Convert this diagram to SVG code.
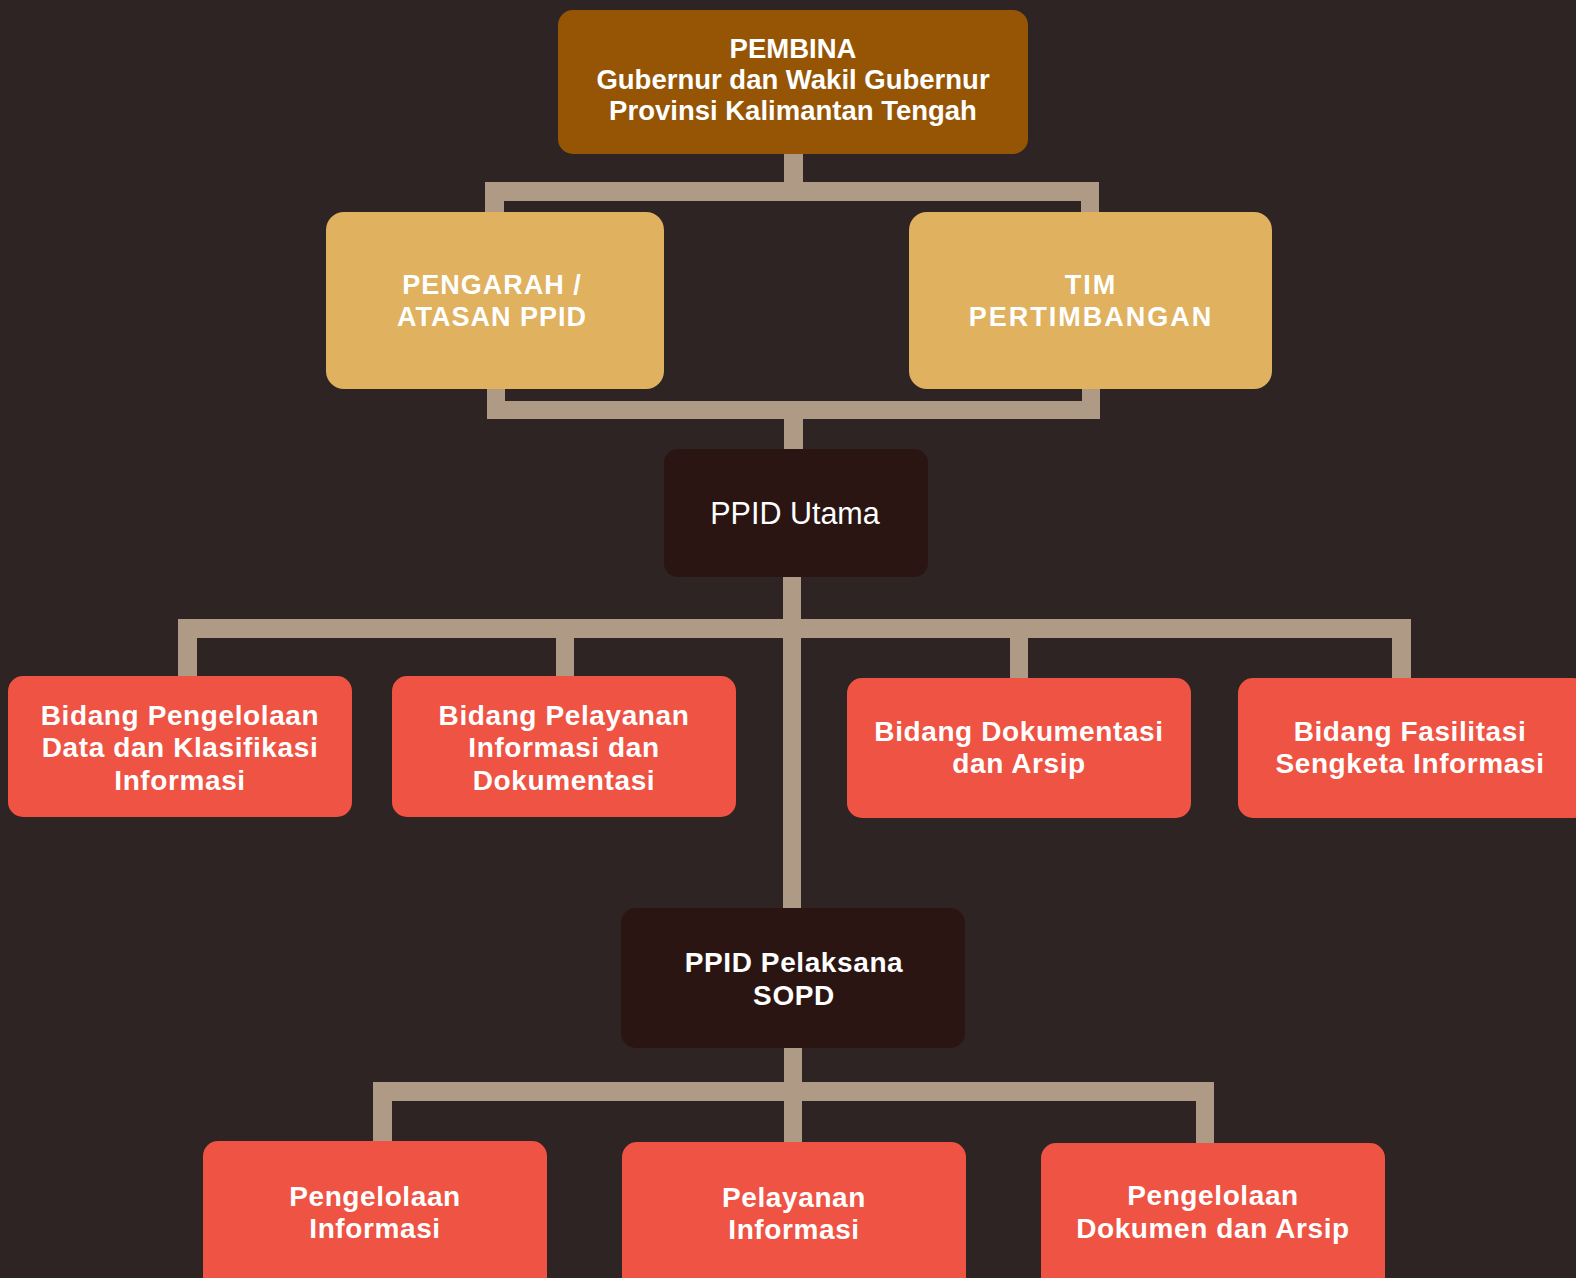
<svg xmlns="http://www.w3.org/2000/svg" width="1576" height="1278" viewBox="0 0 1576 1278">
<style>
.bg{fill:#2e2423}
.c{fill:#ae9a85}
.pem{fill:#955505}
.gold{fill:#e0b15f}
.dark{fill:#2a1512}
.red{fill:#ee5343}
text{font-family:"Liberation Sans",Arial,sans-serif;fill:#ffffff;text-anchor:middle}
.b{font-weight:bold;font-size:28px;letter-spacing:0.6px}
.p{font-weight:bold;font-size:27.5px}
.g{font-weight:bold;font-size:27px}
</style>
<rect class="bg" x="0" y="0" width="1576" height="1278"/>
<g id="connectors">
  <rect class="c" x="784" y="150" width="19" height="36"/>
  <rect class="c" x="485" y="182" width="614" height="19"/>
  <rect class="c" x="485" y="182" width="19" height="34"/>
  <rect class="c" x="1081" y="182" width="18" height="34"/>
  <rect class="c" x="487" y="385" width="18" height="34"/>
  <rect class="c" x="1082" y="385" width="18" height="34"/>
  <rect class="c" x="487" y="401" width="613" height="18"/>
  <rect class="c" x="784" y="401" width="19" height="52"/>
  <rect class="c" x="783" y="573" width="18" height="339"/>
  <rect class="c" x="178" y="619" width="1233" height="19"/>
  <rect class="c" x="178" y="619" width="19" height="61"/>
  <rect class="c" x="556" y="619" width="18" height="61"/>
  <rect class="c" x="1010" y="619" width="18" height="63"/>
  <rect class="c" x="1392" y="619" width="19" height="63"/>
  <rect class="c" x="784" y="1044" width="18" height="102"/>
  <rect class="c" x="373" y="1082" width="841" height="19"/>
  <rect class="c" x="373" y="1082" width="19" height="63"/>
  <rect class="c" x="1196" y="1082" width="18" height="65"/>
</g>
<g id="pembina">
  <rect class="pem" x="558" y="10" width="470" height="144" rx="15"/>
  <text class="p" x="793" y="58">PEMBINA</text>
  <text class="p" x="793" y="88.5">Gubernur dan Wakil Gubernur</text>
  <text class="p" x="793" y="119.5">Provinsi Kalimantan Tengah</text>
</g>
<g id="pengarah">
  <rect class="gold" x="326" y="212" width="338" height="177" rx="18"/>
  <text class="g" x="492" y="294" letter-spacing="1">PENGARAH /</text>
  <text class="g" x="492" y="326" letter-spacing="1">ATASAN PPID</text>
</g>
<g id="tim">
  <rect class="gold" x="909" y="212" width="363" height="177" rx="18"/>
  <text class="g" x="1091" y="294" letter-spacing="2">TIM</text>
  <text class="g" x="1091" y="326" letter-spacing="2">PERTIMBANGAN</text>
</g>
<g id="ppid-utama">
  <rect class="dark" x="664" y="449" width="264" height="128" rx="14"/>
  <text x="795" y="524" font-size="30.5">PPID Utama</text>
</g>
<g id="bidang-pengelolaan">
  <rect class="red" x="8" y="676" width="344" height="141" rx="15"/>
  <text class="b" x="180" y="725">Bidang Pengelolaan</text>
  <text class="b" x="180" y="757">Data dan Klasifikasi</text>
  <text class="b" x="180" y="790">Informasi</text>
</g>
<g id="bidang-pelayanan">
  <rect class="red" x="392" y="676" width="344" height="141" rx="15"/>
  <text class="b" x="564" y="725">Bidang Pelayanan</text>
  <text class="b" x="564" y="757">Informasi dan</text>
  <text class="b" x="564" y="790">Dokumentasi</text>
</g>
<g id="bidang-dokumentasi">
  <rect class="red" x="847" y="678" width="344" height="140" rx="15"/>
  <text class="b" x="1019" y="741">Bidang Dokumentasi</text>
  <text class="b" x="1019" y="773">dan Arsip</text>
</g>
<g id="bidang-fasilitasi">
  <rect class="red" x="1238" y="678" width="350" height="140" rx="15"/>
  <text class="b" x="1410" y="741">Bidang Fasilitasi</text>
  <text class="b" x="1410" y="773">Sengketa Informasi</text>
</g>
<g id="ppid-pelaksana">
  <rect class="dark" x="621" y="908" width="344" height="140" rx="15"/>
  <text class="b" x="794" y="972">PPID Pelaksana</text>
  <text class="b" x="794" y="1005">SOPD</text>
</g>
<g id="pengelolaan-informasi">
  <rect class="red" x="203" y="1141" width="344" height="155" rx="15"/>
  <text class="b" x="375" y="1206">Pengelolaan</text>
  <text class="b" x="375" y="1238">Informasi</text>
</g>
<g id="pelayanan-informasi">
  <rect class="red" x="622" y="1142" width="344" height="155" rx="15"/>
  <text class="b" x="794" y="1207">Pelayanan</text>
  <text class="b" x="794" y="1239">Informasi</text>
</g>
<g id="pengelolaan-dokumen">
  <rect class="red" x="1041" y="1143" width="344" height="155" rx="15"/>
  <text class="b" x="1213" y="1205">Pengelolaan</text>
  <text class="b" x="1213" y="1238">Dokumen dan Arsip</text>
</g>
</svg>
